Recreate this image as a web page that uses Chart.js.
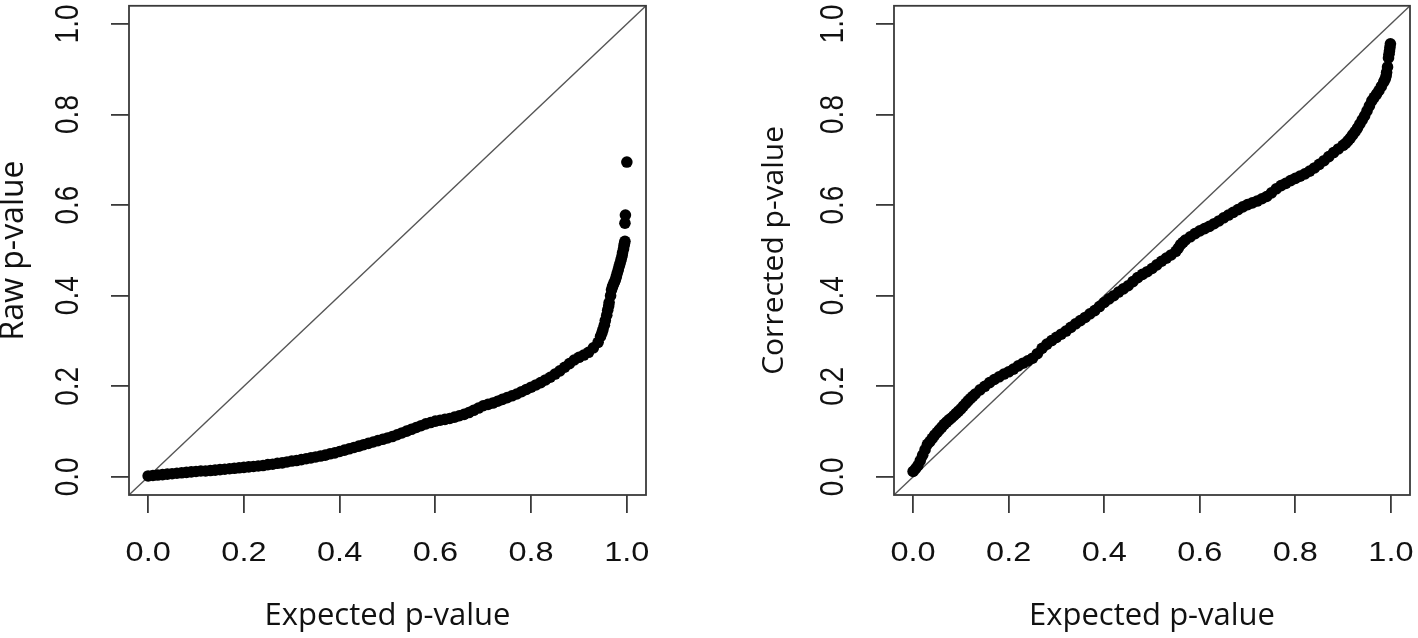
<!DOCTYPE html>
<html>
<head>
<meta charset="utf-8">
<script src="https://cdn.jsdelivr.net/npm/chart.js@4/dist/chart.umd.min.js"></script>
<style>
  html, body { margin: 0; padding: 0; background: #fff; overflow: hidden; }
  .wrap { position: absolute; top: 0; width: 709px; height: 638px; }
  #w1 { left: 0; }
  #w2 { left: 709px; }
</style>
</head>
<body>
<div class="wrap" id="w1"><canvas id="c1" width="709" height="638"></canvas></div>
<div class="wrap" id="w2"><canvas id="c2" width="709" height="638"></canvas></div>
<script>
// ---- data ----
const tickValues = [0, 0.2, 0.4, 0.6, 0.8, 1.0];
const tickLabels = ['0.0', '0.2', '0.4', '0.6', '0.8', '1.0'];
const axisRange = [-0.04, 1.04];
const refLine = [-0.04, 1.04];

const expectedRaw = [
  0.00,0.01,0.02,0.03,0.04,0.05,0.06,0.07,0.08,0.09,
  0.10,0.11,0.12,0.13,0.14,0.15,0.16,0.17,0.18,0.19,
  0.20,0.21,0.22,0.23,0.24,0.25,0.26,0.27,0.28,0.29,
  0.30,0.31,0.32,0.33,0.34,0.35,0.36,0.37,0.38,0.39,
  0.40,0.41,0.42,0.43,0.44,0.45,0.46,0.47,0.48,0.49,
  0.50,0.51,0.52,0.53,0.54,0.55,0.56,0.57,0.58,0.59,
  0.60,0.61,0.62,0.63,0.64,0.65,0.66,0.67,0.68,0.69,
  0.70,0.71,0.72,0.73,0.74,0.75,0.76,0.77,0.78,0.79,
  0.80,0.81,0.82,0.83,0.84,0.85,0.86,0.87,0.88,0.89,
  0.90,0.91,0.92,0.93,0.94,0.945,0.948,0.950,0.953,0.955,
  0.958,0.960,0.962,0.963,0.966,0.968,0.970,0.972,0.974,0.976,
  0.978,0.980,0.982,0.984,0.986,0.988,0.990,0.991,0.993,0.994,
  0.995,0.996,0.996,0.997,1.000
];
const observedRaw = [
  0.002,0.003,0.004,0.005,0.006,0.007,0.008,0.009,0.010,0.011,
  0.012,0.013,0.013,0.014,0.015,0.016,0.017,0.018,0.019,0.020,
  0.021,0.022,0.023,0.024,0.025,0.027,0.028,0.030,0.031,0.033,
  0.035,0.036,0.038,0.040,0.042,0.044,0.046,0.048,0.051,0.053,
  0.056,0.059,0.062,0.065,0.068,0.071,0.074,0.077,0.080,0.083,
  0.086,0.089,0.093,0.097,0.101,0.105,0.109,0.113,0.117,0.120,
  0.123,0.125,0.127,0.129,0.132,0.135,0.138,0.142,0.147,0.152,
  0.157,0.160,0.163,0.167,0.171,0.175,0.179,0.183,0.188,0.193,
  0.198,0.203,0.208,0.214,0.220,0.227,0.234,0.242,0.250,0.258,
  0.264,0.269,0.275,0.285,0.297,0.310,0.318,0.325,0.335,0.345,
  0.357,0.368,0.377,0.385,0.400,0.413,0.420,0.425,0.430,0.435,
  0.442,0.450,0.457,0.465,0.472,0.480,0.488,0.495,0.503,0.510,
  0.515,0.520,0.560,0.578,0.695
];

const expectedCorrected = [
  0.000,0.005,0.010,0.015,0.020,0.025,0.030,0.035,0.040,0.045,
  0.050,0.055,0.060,0.065,0.070,0.075,0.080,0.085,0.090,0.095,
  0.100,0.105,0.110,0.115,0.120,0.125,0.13,0.14,0.15,0.16,0.17,0.18,0.19,
  0.20,0.21,0.22,0.23,0.24,0.25,0.26,0.27,0.28,0.29,
  0.30,0.31,0.32,0.33,0.34,0.35,0.36,0.37,0.38,0.39,
  0.40,0.41,0.42,0.43,0.44,0.45,0.46,0.47,0.48,0.49,
  0.50,0.51,0.52,0.53,0.54,0.55,0.555,0.56,0.565,0.57,0.58,0.59,
  0.60,0.61,0.62,0.63,0.64,0.65,0.66,0.67,0.68,0.69,
  0.70,0.71,0.72,0.73,0.74,0.75,0.76,0.77,0.78,0.79,
  0.80,0.81,0.82,0.83,0.84,0.85,0.86,0.87,0.88,0.89,
  0.900,0.905,0.910,0.915,0.920,0.925,0.930,0.935,0.940,0.945,
  0.950,0.955,0.960,0.965,0.970,0.975,0.980,0.985,0.988,0.990,
  0.991,0.993,0.995,0.996,0.997,0.998,0.999
];
const observedCorrected = [
  0.012,0.018,0.025,0.036,0.048,0.060,0.072,0.078,0.085,0.092,
  0.098,0.104,0.110,0.116,0.121,0.126,0.130,0.135,0.140,0.145,
  0.150,0.156,0.162,0.168,0.173,0.178,0.183,0.192,0.200,0.208,0.215,0.221,0.227,
  0.232,0.238,0.245,0.251,0.256,0.262,0.272,0.284,0.293,0.301,
  0.308,0.315,0.322,0.330,0.338,0.345,0.352,0.360,0.367,0.376,
  0.385,0.393,0.400,0.408,0.415,0.422,0.431,0.440,0.447,0.453,
  0.460,0.468,0.476,0.483,0.490,0.498,0.505,0.513,0.518,0.523,0.530,0.537,
  0.543,0.548,0.553,0.559,0.565,0.572,0.578,0.584,0.590,0.596,
  0.601,0.605,0.609,0.614,0.619,0.627,0.636,0.643,0.648,0.654,
  0.659,0.664,0.669,0.675,0.682,0.690,0.698,0.707,0.716,0.724,
  0.732,0.736,0.742,0.748,0.755,0.762,0.770,0.779,0.788,0.797,
  0.808,0.819,0.830,0.838,0.845,0.853,0.862,0.872,0.878,0.885,
  0.893,0.905,0.925,0.933,0.940,0.948,0.956
];

// ---- styling ----
const LINE = '#3a3a3a';
const TEXT = '#111';
const STRETCH = 1.16;   // reference text is slightly wider than tall

const rDecor = {
  id: 'rDecor',
  afterDraw(chart) {
    const ctx = chart.ctx;
    const a = chart.chartArea;
    const xs = chart.scales.x, ys = chart.scales.y;
    ctx.save();
    ctx.strokeStyle = LINE;
    ctx.lineWidth = 1.8;
    ctx.strokeRect(a.left, a.top, a.right - a.left, a.bottom - a.top);
    ctx.fillStyle = TEXT;
    ctx.font = '28px "Liberation Sans", Arial, sans-serif';
    ctx.textAlign = 'center';
    ctx.textBaseline = 'middle';
    tickValues.forEach((v, i) => {
      const px = xs.getPixelForValue(v);
      ctx.save();
      ctx.translate(px, a.bottom + 58);
      ctx.scale(STRETCH, 1);
      ctx.fillText(tickLabels[i], 0, 0);
      ctx.restore();
      const py = ys.getPixelForValue(v);
      ctx.save();
      ctx.translate(a.left - 60, py);
      ctx.scale(STRETCH, 1);
      ctx.rotate(-Math.PI / 2);
      ctx.fillText(tickLabels[i], 0, 0);
      ctx.restore();
    });
    ctx.restore();
  }
};

function makeChart(id, xs, ys, yTitle, yAxisWidth, rightPad, yTitlePad, yTitleSize) {
  const pts = xs.map((x, i) => ({x: x, y: ys[i]}));
  const diag = refLine.map(v => ({x: v, y: v}));
  return new Chart(document.getElementById(id), {
    type: 'scatter',
    data: {
      datasets: [
        {
          data: pts,
          pointRadius: 5.8,
          pointHoverRadius: 5.8,
          backgroundColor: '#000',
          borderWidth: 0,
          showLine: false
        },
        {
          type: 'line',
          data: diag,
          borderColor: '#555',
          borderWidth: 1.3,
          pointRadius: 0,
          fill: false,
          tension: 0
        }
      ]
    },
    options: {
      responsive: false,
      animation: false,
      devicePixelRatio: 1,
      events: [],
      layout: { padding: { top: 5, right: rightPad, left: 0, bottom: 0 } },
      plugins: { legend: { display: false }, tooltip: { enabled: false } },
      scales: {
        x: {
          type: 'linear',
          min: axisRange[0], max: axisRange[1],
          afterBuildTicks: s => { s.ticks = tickValues.map(v => ({value: v})); },
          afterFit: s => { s.height = 143; },
          border: { display: false },
          grid: { drawOnChartArea: false, drawTicks: true, tickLength: 18, color: LINE, lineWidth: 1.8 },
          ticks: { display: false },
          title: {
            display: true, text: 'Expected p-value', color: TEXT,
            font: { family: '"Open Sans", "Noto Sans", sans-serif', size: 31 },
            padding: { top: 0, bottom: 3 }
          }
        },
        y: {
          type: 'linear',
          min: axisRange[0], max: axisRange[1],
          afterBuildTicks: s => { s.ticks = tickValues.map(v => ({value: v})); },
          afterFit: s => { s.width = yAxisWidth; },
          border: { display: false },
          grid: { drawOnChartArea: false, drawTicks: true, tickLength: 18, color: LINE, lineWidth: 1.8 },
          ticks: { display: false },
          title: {
            display: true, text: yTitle, color: TEXT,
            font: { family: '"Open Sans", "Noto Sans", sans-serif', size: yTitleSize },
            padding: { top: yTitlePad, bottom: 0 }
          }
        }
      }
    },
    plugins: [rDecor]
  });
}

makeChart('c1', expectedRaw, observedRaw, 'Raw p-value', 129, 63, -5, 32);
makeChart('c2', expectedCorrected, observedCorrected, 'Corrected p-value', 185, 8, 47, 30);
</script>
</body>
</html>
